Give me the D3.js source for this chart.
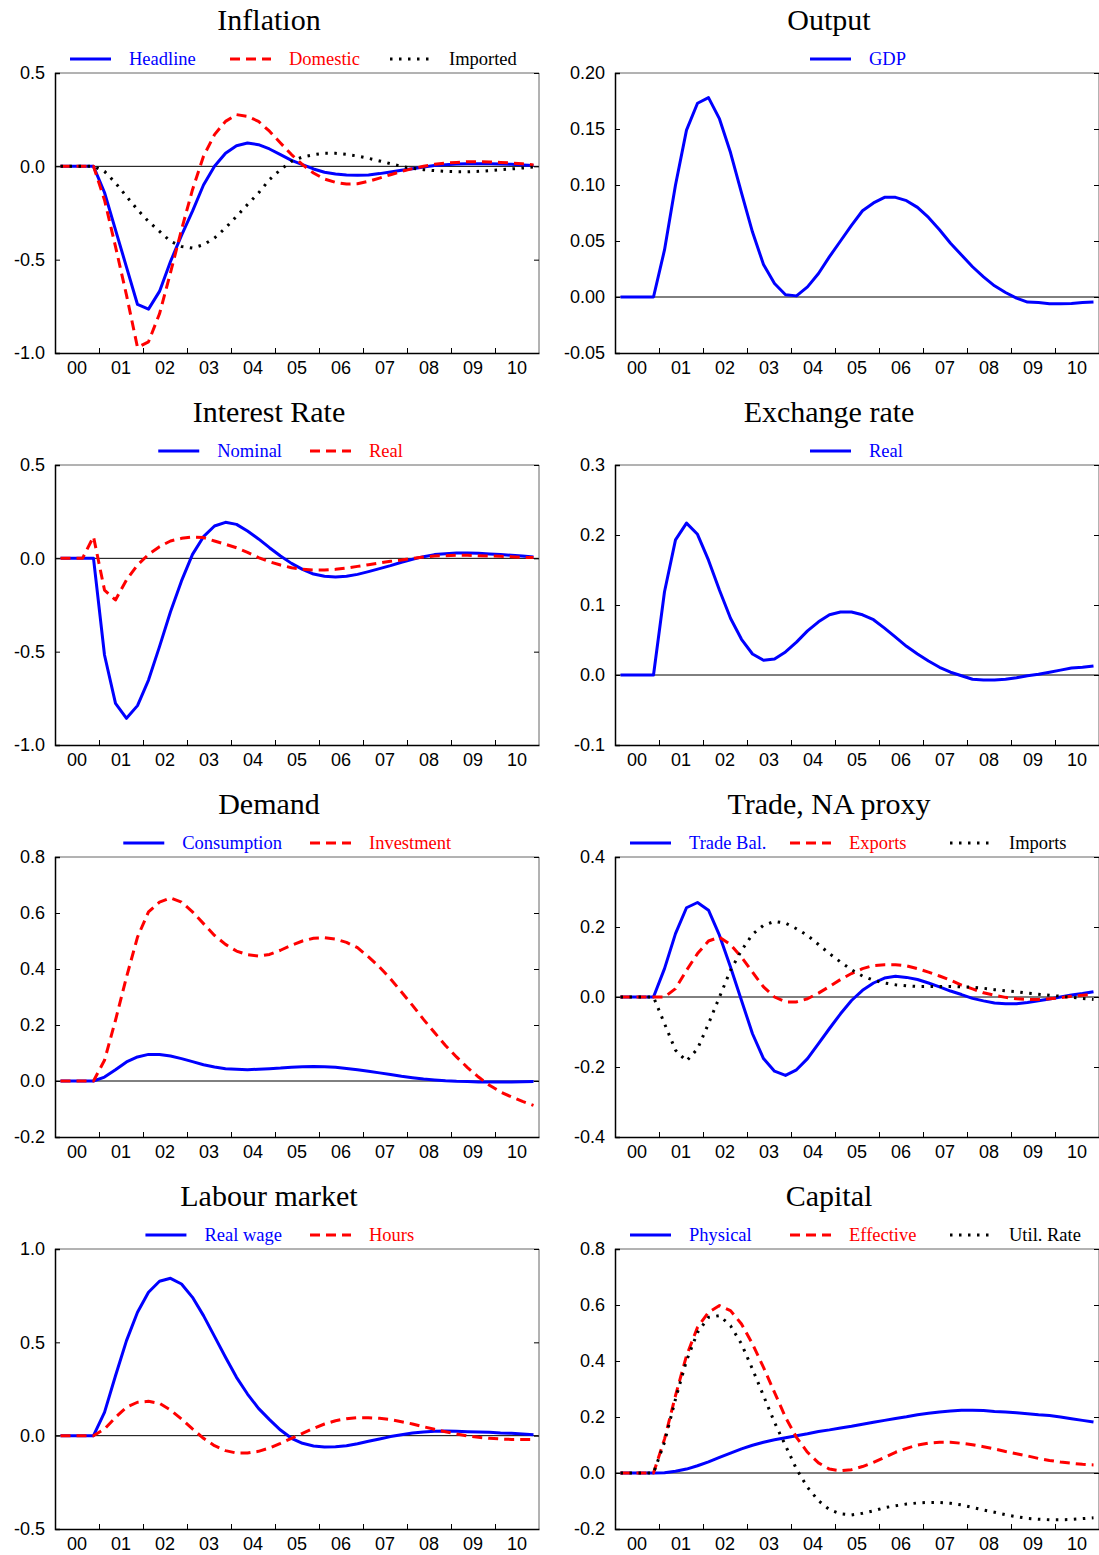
<!DOCTYPE html>
<html>
<head>
<meta charset="utf-8">
<script src="https://cdn.jsdelivr.net/npm/d3@7"></script>
<style>
  body { margin: 0; background: #fff; }
  svg { display: block; }
</style>
</head>
<body>
<svg id="chart" width="1099" height="1555"></svg>
<script>
// year labels on the x axis, data are quarterly (44 quarters)
const yearLabels = ["00", "01", "02", "03", "04", "05", "06", "07", "08", "09", "10"];

const headline = [0,0,0,0,-0.14,-0.34,-0.54,-0.74,-0.765,-0.67,-0.51,-0.37,-0.24,-0.10,0.0,0.07,0.11,0.125,0.116,0.093,0.063,0.032,0.009,-0.014,-0.032,-0.041,-0.046,-0.048,-0.046,-0.039,-0.03,-0.021,-0.013,-0.004,0.004,0.009,0.012,0.014,0.014,0.014,0.013,0.011,0.007,0.004];
const domestic = [0,0,0,0,-0.18,-0.43,-0.69,-0.97,-0.94,-0.79,-0.57,-0.34,-0.125,0.054,0.17,0.241,0.277,0.268,0.241,0.188,0.125,0.063,0.009,-0.036,-0.068,-0.086,-0.095,-0.093,-0.080,-0.063,-0.045,-0.027,-0.0125,0,0.011,0.018,0.021,0.025,0.025,0.023,0.021,0.018,0.014,0.007];
const imported = [0,0,0,0,-0.027,-0.089,-0.161,-0.232,-0.295,-0.348,-0.402,-0.429,-0.438,-0.42,-0.384,-0.33,-0.268,-0.205,-0.143,-0.071,-0.018,0.027,0.05,0.0625,0.07,0.07,0.064,0.055,0.043,0.029,0.014,0,-0.011,-0.018,-0.023,-0.027,-0.029,-0.029,-0.027,-0.023,-0.018,-0.014,-0.009,-0.004];

const gdp = [0,0,0,0,0.042,0.10,0.149,0.173,0.178,0.159,0.129,0.093,0.058,0.029,0.012,0.002,0.001,0.009,0.021,0.036,0.05,0.064,0.077,0.084,0.089,0.089,0.086,0.08,0.071,0.06,0.048,0.0375,0.027,0.018,0.01,0.004,-0.001,-0.0045,-0.005,-0.006,-0.006,-0.0058,-0.005,-0.0045];

const nominal = [0,0,0,0,-0.518,-0.777,-0.857,-0.789,-0.652,-0.473,-0.286,-0.121,0.021,0.116,0.173,0.193,0.182,0.146,0.104,0.057,0.0125,-0.027,-0.059,-0.084,-0.096,-0.1,-0.096,-0.086,-0.071,-0.055,-0.039,-0.021,-0.005,0.009,0.02,0.025,0.029,0.029,0.027,0.023,0.02,0.016,0.0125,0.007];
const realRate = [0,0,0,0.116,-0.17,-0.223,-0.116,-0.036,0.021,0.0625,0.093,0.107,0.114,0.111,0.093,0.075,0.057,0.032,0.004,-0.018,-0.036,-0.05,-0.059,-0.0625,-0.0625,-0.059,-0.052,-0.043,-0.034,-0.025,-0.016,-0.009,0,0.007,0.0125,0.014,0.016,0.016,0.014,0.0125,0.011,0.009,0.005,0.004];

const realExch = [0,0,0,0,0.119,0.193,0.217,0.201,0.164,0.121,0.081,0.051,0.03,0.021,0.023,0.033,0.047,0.063,0.076,0.086,0.09,0.09,0.086,0.079,0.067,0.054,0.041,0.03,0.02,0.011,0.004,-0.001,-0.006,-0.007,-0.007,-0.006,-0.004,-0.001,0.001,0.004,0.007,0.01,0.011,0.013];

const consumption = [0,0,0,0,0.014,0.04,0.068,0.086,0.095,0.095,0.089,0.08,0.069,0.058,0.05,0.044,0.042,0.04,0.042,0.044,0.046,0.049,0.051,0.052,0.051,0.049,0.045,0.04,0.035,0.029,0.023,0.017,0.012,0.007,0.004,0.001,-0.001,-0.002,-0.004,-0.004,-0.004,-0.004,-0.003,-0.002];
const investment = [0,0,0,0,0.074,0.217,0.371,0.514,0.604,0.639,0.654,0.639,0.604,0.562,0.52,0.488,0.464,0.451,0.446,0.452,0.467,0.485,0.5,0.51,0.512,0.507,0.495,0.476,0.443,0.407,0.365,0.318,0.27,0.22,0.173,0.127,0.086,0.048,0.014,-0.015,-0.039,-0.057,-0.073,-0.087];

const tradeBal = [0,0,0,0,0.081,0.181,0.255,0.27,0.248,0.176,0.086,-0.01,-0.105,-0.176,-0.212,-0.224,-0.208,-0.176,-0.133,-0.09,-0.048,-0.01,0.019,0.04,0.054,0.059,0.056,0.05,0.04,0.029,0.017,0.007,-0.004,-0.011,-0.017,-0.019,-0.019,-0.016,-0.011,-0.006,0,0.006,0.01,0.015];
const exportsS = [0,0,0,0,0,0.024,0.076,0.124,0.16,0.171,0.15,0.114,0.071,0.029,0,-0.014,-0.014,-0.005,0.011,0.03,0.05,0.067,0.081,0.09,0.092,0.092,0.089,0.081,0.071,0.06,0.048,0.034,0.023,0.012,0.005,-0.001,-0.005,-0.007,-0.007,-0.005,-0.002,0.002,0.005,0.008];
const importsS = [0,0,0,0,-0.076,-0.152,-0.183,-0.148,-0.076,0,0.076,0.133,0.179,0.205,0.216,0.211,0.195,0.176,0.15,0.124,0.1,0.078,0.06,0.048,0.04,0.035,0.032,0.03,0.03,0.03,0.03,0.029,0.028,0.025,0.021,0.018,0.015,0.011,0.008,0.005,0.002,-0.001,-0.004,-0.007];

const realWage = [0,0,0,0,0.125,0.321,0.509,0.661,0.768,0.827,0.843,0.8125,0.741,0.643,0.532,0.42,0.3125,0.223,0.146,0.086,0.03,-0.014,-0.041,-0.055,-0.061,-0.059,-0.054,-0.043,-0.03,-0.018,-0.005,0.005,0.014,0.02,0.023,0.025,0.023,0.021,0.02,0.018,0.014,0.0125,0.009,0.005];
const hours = [0,0,0,0,0.036,0.098,0.152,0.179,0.184,0.173,0.1375,0.089,0.036,-0.014,-0.054,-0.08,-0.093,-0.093,-0.084,-0.066,-0.041,-0.014,0.0125,0.039,0.0625,0.08,0.091,0.096,0.096,0.093,0.086,0.075,0.0625,0.048,0.034,0.021,0.009,-0.002,-0.009,-0.014,-0.018,-0.02,-0.02,-0.02];

const physical = [0,0,0,0,0.001,0.006,0.014,0.026,0.04,0.056,0.071,0.086,0.099,0.11,0.119,0.126,0.133,0.14,0.148,0.154,0.161,0.167,0.174,0.181,0.188,0.195,0.201,0.208,0.213,0.218,0.221,0.224,0.224,0.223,0.22,0.218,0.215,0.212,0.208,0.205,0.2,0.194,0.188,0.182];
const effective = [0,0,0,0,0.121,0.276,0.419,0.52,0.574,0.598,0.58,0.532,0.461,0.377,0.288,0.199,0.127,0.074,0.036,0.014,0.008,0.012,0.023,0.038,0.056,0.074,0.088,0.1,0.107,0.11,0.11,0.106,0.101,0.094,0.086,0.077,0.069,0.061,0.052,0.045,0.039,0.035,0.031,0.029];
const utilRate = [0,0,0,0,0.11,0.264,0.401,0.502,0.556,0.562,0.526,0.461,0.371,0.276,0.181,0.098,0.014,-0.051,-0.099,-0.131,-0.146,-0.15,-0.144,-0.135,-0.124,-0.117,-0.111,-0.107,-0.105,-0.105,-0.108,-0.114,-0.123,-0.132,-0.14,-0.149,-0.156,-0.162,-0.165,-0.167,-0.167,-0.166,-0.163,-0.16];

// y tick values for each panel
const ticksInflation = [-1.0, -0.5, 0.0, 0.5];
const ticksOutput = [-0.05, 0.00, 0.05, 0.10, 0.15, 0.20];
const ticksInterest = [-1.0, -0.5, 0.0, 0.5];
const ticksExchange = [-0.1, 0.0, 0.1, 0.2, 0.3];
const ticksDemand = [-0.2, 0.0, 0.2, 0.4, 0.6, 0.8];
const ticksTrade = [-0.4, -0.2, 0.0, 0.2, 0.4];
const ticksLabour = [-0.5, 0.0, 0.5, 1.0];
const ticksCapital = [-0.2, 0.0, 0.2, 0.4, 0.6, 0.8];

// line styles
const SOLID = { color: "#0000ff", dash: null, text: "#0000ff" };
const DASH = { color: "#ff0000", dash: "10,6", text: "#ff0000" };
const DOT = { color: "#000000", dash: "2.5,6.5", text: "#000000" };

const panels = [
  { title: "Inflation", col: 0, row: 0, ticks: ticksInflation, fmt: ".1f",
    series: [["Headline", headline, SOLID], ["Domestic", domestic, DASH], ["Imported", imported, DOT]] },
  { title: "Output", col: 1, row: 0, ticks: ticksOutput, fmt: ".2f",
    series: [["GDP", gdp, SOLID]] },
  { title: "Interest Rate", col: 0, row: 1, ticks: ticksInterest, fmt: ".1f",
    series: [["Nominal", nominal, SOLID], ["Real", realRate, DASH]] },
  { title: "Exchange rate", col: 1, row: 1, ticks: ticksExchange, fmt: ".1f",
    series: [["Real", realExch, SOLID]] },
  { title: "Demand", col: 0, row: 2, ticks: ticksDemand, fmt: ".1f",
    series: [["Consumption", consumption, SOLID], ["Investment", investment, DASH]] },
  { title: "Trade, NA proxy", col: 1, row: 2, ticks: ticksTrade, fmt: ".1f",
    series: [["Trade Bal.", tradeBal, SOLID], ["Exports", exportsS, DASH], ["Imports", importsS, DOT]] },
  { title: "Labour market", col: 0, row: 3, ticks: ticksLabour, fmt: ".1f",
    series: [["Real wage", realWage, SOLID], ["Hours", hours, DASH]] },
  { title: "Capital", col: 1, row: 3, ticks: ticksCapital, fmt: ".1f",
    series: [["Physical", physical, SOLID], ["Effective", effective, DASH], ["Util. Rate", utilRate, DOT]] }
];

const colLeft = [55, 615];
const rowTop = [73, 465, 857, 1249];
const W = 484, H = 280;
const nQ = 44;
const SANS = "'Liberation Sans', Arial, sans-serif";
const SERIF = "'Liberation Serif', 'Times New Roman', serif";

const svg = d3.select("#chart");

panels.forEach(p => {
  const left = colLeft[p.col], top = rowTop[p.row];
  const g = svg.append("g").attr("transform", `translate(${left},${top})`);

  const x = d3.scaleLinear().domain([0, nQ]).range([0, W]);
  const y = d3.scaleLinear().domain(d3.extent(p.ticks)).range([H, 0]);
  const f = d3.format(p.fmt);
  const fmt = v => f(v).replace("\u2212", "-");   // plain hyphen minus like the original

  // title
  g.append("text")
    .attr("x", 214).attr("y", -43)
    .attr("text-anchor", "middle")
    .attr("font-family", SERIF)
    .attr("font-size", 30)
    .text(p.title);

  // zero line
  g.append("line")
    .attr("x1", 0).attr("x2", W)
    .attr("y1", y(0)).attr("y2", y(0))
    .attr("stroke", "#000").attr("stroke-width", 1);

  // series
  const line = d3.line()
    .x((d, i) => x(i + 0.5))
    .y(d => y(d));
  p.series.forEach(([name, vals, st]) => {
    g.append("path")
      .datum(vals)
      .attr("d", line)
      .attr("fill", "none")
      .attr("stroke", st.color)
      .attr("stroke-width", 3)
      .attr("stroke-dasharray", st.dash)
      .attr("stroke-linejoin", "round");
  });

  // box
  g.append("line").attr("x1", 0).attr("x2", W).attr("y1", 0).attr("y2", 0)
    .attr("stroke", "#666").attr("stroke-width", 1);
  g.append("line").attr("x1", W).attr("x2", W).attr("y1", 0).attr("y2", H)
    .attr("stroke", "#666").attr("stroke-width", 1);

  // left axis, ticks inward
  const yAxis = d3.axisLeft(y).tickValues(p.ticks).tickFormat(fmt).tickSize(-5).tickPadding(10);
  const ya = g.append("g").call(yAxis);
  ya.select(".domain").attr("stroke", "#000").attr("stroke-width", 1.5);
  ya.selectAll("text")
    .attr("font-family", SANS)
    .attr("font-size", 18).attr("fill", "#000");

  // right ticks inward
  const yAxisR = d3.axisRight(y).tickValues(p.ticks).tickFormat("").tickSize(-5).tickSizeOuter(0);
  const yr = g.append("g").attr("transform", `translate(${W},0)`).call(yAxisR);
  yr.select(".domain").remove();

  // bottom axis, tick marks at year boundaries
  const xAxis = d3.axisBottom(x).tickValues(d3.range(4, nQ, 4)).tickFormat("").tickSize(-5).tickSizeOuter(0);
  const xa = g.append("g").attr("transform", `translate(0,${H})`).call(xAxis);
  xa.select(".domain").attr("stroke", "#000").attr("stroke-width", 1.5);

  // year labels centred on each year
  g.selectAll("text.year")
    .data(yearLabels)
    .enter().append("text")
    .attr("class", "year")
    .attr("x", (d, i) => x(i * 4 + 2))
    .attr("y", H + 21)
    .attr("text-anchor", "middle")
    .attr("font-family", SANS)
    .attr("font-size", 18)
    .text(d => d);

  // legend
  const ly = -14;
  const lg = g.append("g").attr("font-family", SERIF).attr("font-size", 18.5);
  const drawEntry = (lx, name, st) => {
    lg.append("line")
      .attr("x1", lx).attr("x2", lx + 41).attr("y1", ly).attr("y2", ly)
      .attr("stroke", st.color).attr("stroke-width", 3)
      .attr("stroke-dasharray", st.dash);
    lg.append("text")
      .attr("x", lx + 59).attr("y", ly).attr("dy", "0.35em")
      .attr("fill", st.text).text(name);
  };
  const n = p.series.length;
  if (n === 3) {
    p.series.forEach(([name, , st], i) => drawEntry(15 + 160 * i, name, st));
  } else if (n === 1) {
    drawEntry(195, p.series[0][0], p.series[0][2]);
  } else {
    // first entry right aligned before the second one
    const [n1, , s1] = p.series[0];
    const t = lg.append("text")
      .attr("x", 227).attr("y", ly).attr("dy", "0.35em")
      .attr("text-anchor", "end").attr("fill", s1.text).text(n1);
    const w = t.node().getComputedTextLength();
    const start = 227 - w - 18;
    lg.append("line")
      .attr("x1", start - 41).attr("x2", start).attr("y1", ly).attr("y2", ly)
      .attr("stroke", s1.color).attr("stroke-width", 3)
      .attr("stroke-dasharray", s1.dash);
    drawEntry(255, p.series[1][0], p.series[1][2]);
  }
});
</script>
</body>
</html>
